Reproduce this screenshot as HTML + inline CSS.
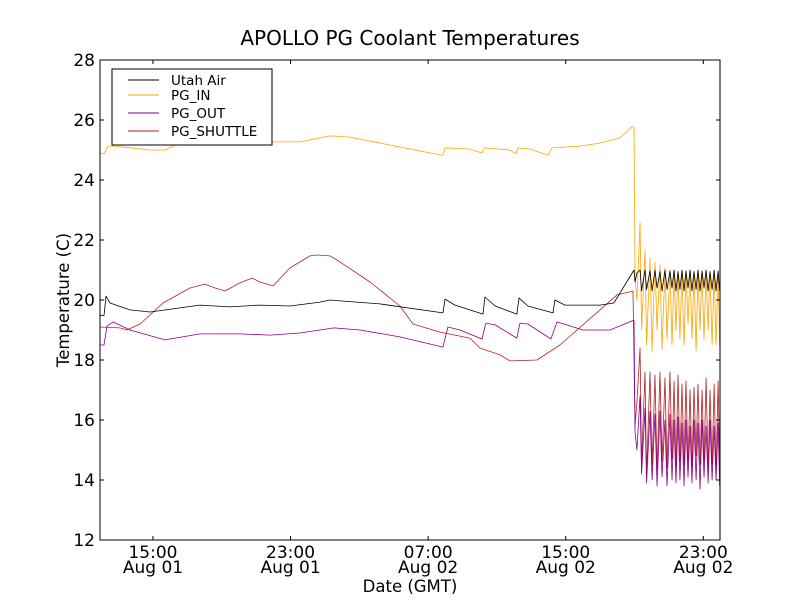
<!DOCTYPE html>
<html><head><meta charset="utf-8"><style>
body{margin:0;background:#fff;}
svg text{font-family:"DejaVu Sans","Liberation Sans",sans-serif;}
</style></head><body>
<svg id="chart" width="800" height="600" xmlns="http://www.w3.org/2000/svg">
<rect width="800" height="600" fill="#fff"/>
<text x="410" y="45" font-size="20" text-anchor="middle">APOLLO PG Coolant Temperatures</text>
<text x="0" y="0" font-size="16.5" text-anchor="middle" transform="translate(69,300) rotate(-90)">Temperature (C)</text>
<text x="410" y="592" font-size="16.5" text-anchor="middle">Date (GMT)</text>
<g id="plot"></g>
<g id="axes"></g>
<g id="legend"></g>
</svg>
<script>
const yTicks=[12,14,16,18,20,22,24,26,28];
const xTicks=[15,23,31,39,47];
const xTickLine1=["15:00","23:00","07:00","15:00","23:00"];
const xTickLine2=["Aug 01","Aug 01","Aug 02","Aug 02","Aug 02"];
const seriesNames=["Utah Air","PG_IN","PG_OUT","PG_SHUTTLE"];

const utahT=[11.92,12.15,12.27,12.50,13.66,14.83,17.73,19.48,21.22,22.97,24.71,25.29,25.87,28.20,31.86,31.98,32.56,34.19,34.30,34.89,36.16,36.28,36.80,38.26,38.37,38.95,40.99,41.80,42.97];
const utahV=[19.5,19.47,20.13,19.9,19.67,19.6,19.83,19.77,19.83,19.8,19.93,20.0,19.97,19.87,19.57,20.03,19.83,19.53,20.1,19.8,19.53,20.07,19.8,19.57,20.0,19.83,19.83,19.9,21.0];
const inT=[11.92,12.15,12.39,12.79,14.83,15.70,16.57,17.73,20.06,21.80,23.55,25.29,26.45,29.36,31.75,31.86,31.98,33.43,34.13,34.25,35.76,36.11,36.22,36.92,37.97,38.20,39.83,40.99,42.15,42.85,42.97];
const inV=[24.9,24.87,25.13,25.13,25.0,25.0,25.23,25.27,25.33,25.27,25.27,25.47,25.43,25.1,24.83,24.83,25.07,25.03,24.9,25.07,25.0,24.87,25.07,25.03,24.83,25.07,25.13,25.23,25.4,25.77,25.77];
const outT=[11.92,12.15,12.33,12.68,13.66,15.70,17.73,20.06,21.80,23.55,25.52,27.04,29.36,31.86,32.15,32.85,34.13,34.36,34.89,36.16,36.34,36.80,38.14,38.49,40.00,41.57,42.97];
const outV=[18.5,18.5,19.13,19.27,19.0,18.67,18.87,18.87,18.83,18.9,19.07,19.0,18.77,18.43,19.1,19.0,18.7,19.23,19.17,18.73,19.23,19.2,18.7,19.27,19.0,19.0,19.33];
const shT=[11.92,13.08,13.49,14.25,15.58,17.15,18.02,18.61,19.19,20.06,20.76,21.22,21.98,22.97,24.13,24.54,25.29,25.87,27.62,29.36,30.12,31.69,33.43,34.01,35.18,35.76,37.33,38.66,40.99,41.98,42.91];
const shV=[19.1,19.07,19.0,19.2,19.9,20.4,20.53,20.4,20.3,20.57,20.73,20.6,20.47,21.07,21.47,21.5,21.47,21.27,20.6,19.8,19.2,18.93,18.73,18.4,18.17,17.97,18.0,18.5,19.67,20.17,20.3];

const oscT=[43.03,43.14,43.32,43.41,43.61,43.70,43.90,44.02,44.19,44.31,44.48,44.60,44.77,44.89,45.06,45.18,45.30,45.41,45.53,45.64,45.76,45.88,45.99,46.11,46.23,46.34,46.46,46.58,46.69,46.81,46.93,47.04,47.16,47.28,47.39,47.51,47.63,47.74,47.86,47.95];
const oscUtah=[20.6,20.9,21.0,20.3,21.0,20.35,20.97,20.3,21.0,20.4,20.95,20.3,21.0,20.35,20.97,20.4,21.0,20.3,20.95,20.35,21.0,20.3,20.97,20.4,21.0,20.3,20.95,20.35,21.0,20.3,20.97,20.4,21.0,20.3,20.95,20.35,21.0,20.3,20.97,20.3];
const oscIn=[20.7,20.0,22.6,19.0,21.67,18.5,21.4,18.3,21.27,19.0,21.17,18.35,21.07,18.7,21.0,18.5,20.95,19.0,20.93,18.7,20.93,18.5,20.93,19.2,20.93,18.7,20.93,18.3,20.93,19.0,20.93,18.7,20.93,19.0,20.93,18.5,20.93,18.5,20.9,18.5];
const oscOut=[15.6,15.0,16.8,14.2,16.4,13.9,16.3,14.0,16.2,13.8,16.3,14.1,16.0,13.8,16.2,14.0,16.0,13.9,16.1,14.0,15.9,13.8,16.0,14.1,15.8,13.9,16.0,14.0,15.9,13.7,16.0,14.1,15.8,13.9,16.0,14.0,15.8,14.0,15.9,13.8];
const oscSh=[15.8,16.6,18.4,14.6,17.6,14.2,17.6,14.5,17.5,14.3,17.6,14.6,17.4,14.4,17.6,14.7,17.3,14.4,17.5,14.6,17.2,14.5,17.3,14.6,17.0,14.4,17.1,14.8,17.2,14.5,17.0,14.6,17.4,14.4,17.0,14.5,17.2,14.3,17.3,14.6];

const L=100,R=720,T=60,B=540,xMin=11.92,xMax=47.97,yMin=12,yMax=28;
const NS="http://www.w3.org/2000/svg";
function sx(h){return L+(h-xMin)/(xMax-xMin)*(R-L);}
function sy(v){return B-(v-yMin)/(yMax-yMin)*(B-T);}
function mk(tag,attrs,parent){const e=document.createElementNS(NS,tag);for(const k in attrs)e.setAttribute(k,attrs[k]);parent.appendChild(e);return e;}
const plot=document.getElementById('plot'),axes=document.getElementById('axes'),legend=document.getElementById('legend');

function drawSeries(ts,vs,ots,ovs,color,name){
  const all=ts.map((t,i)=>[t,vs[i]]).concat(ots.map((t,i)=>[t,ovs[i]]));
  const d=all.map((p,i)=>(i?'L':'M')+sx(p[0]).toFixed(2)+','+sy(p[1]).toFixed(2)).join('');
  const p=mk('path',{d:d,fill:'none',stroke:color,'stroke-width':0.8,'stroke-linejoin':'round'},plot);
  
  
}
drawSeries(shT,shV,oscT,oscSh,'#b22222','series-pg-shuttle');
drawSeries(outT,outV,oscT,oscOut,'#8b008b','series-pg-out');
drawSeries(inT,inV,oscT,oscIn,'#ffa500','series-pg-in');
drawSeries(utahT,utahV,oscT,oscUtah,'#000000','series-utah-air');

mk('rect',{x:L,y:T,width:R-L,height:B-T,fill:'none',stroke:'#000','stroke-width':1},axes);
yTicks.forEach(v=>{
  const y=sy(v);
  mk('line',{x1:L,x2:L+4,y1:y,y2:y,stroke:'#000'},axes);
  mk('line',{x1:R-4,x2:R,y1:y,y2:y,stroke:'#000'},axes);
  const t=mk('text',{x:L-5,y:y+6,'font-size':17,'text-anchor':'end'},axes);
  t.textContent=v;
  
  
});
xTicks.forEach((h,i)=>{
  const x=sx(h);
  mk('line',{x1:x,x2:x,y1:B,y2:B-4,stroke:'#000'},axes);
  mk('line',{x1:x,x2:x,y1:T,y2:T+4,stroke:'#000'},axes);
  const t1=mk('text',{x:x,y:B+18,'font-size':17,'text-anchor':'middle'},axes);
  t1.textContent=xTickLine1[i];
  
  
  const t2=mk('text',{x:x,y:B+33,'font-size':17,'text-anchor':'middle'},axes);
  t2.textContent=xTickLine2[i];
  
  
});

mk('rect',{x:112,y:69,width:160,height:76,fill:'#fff',stroke:'#000','stroke-width':1},legend);
const legColors=['#000','#ffa500','#8b008b','#b22222'];
const legY=[80,95,113,131];
seriesNames.forEach((n,i)=>{
  const g=mk('g',{},legend);
  
  
  mk('line',{x1:128,x2:159,y1:legY[i],y2:legY[i],stroke:legColors[i],'stroke-width':0.9},g);
  const t=mk('text',{x:171,y:legY[i]+5,'font-size':13.5},g);
  t.textContent=n;
});
</script>
</body></html>
